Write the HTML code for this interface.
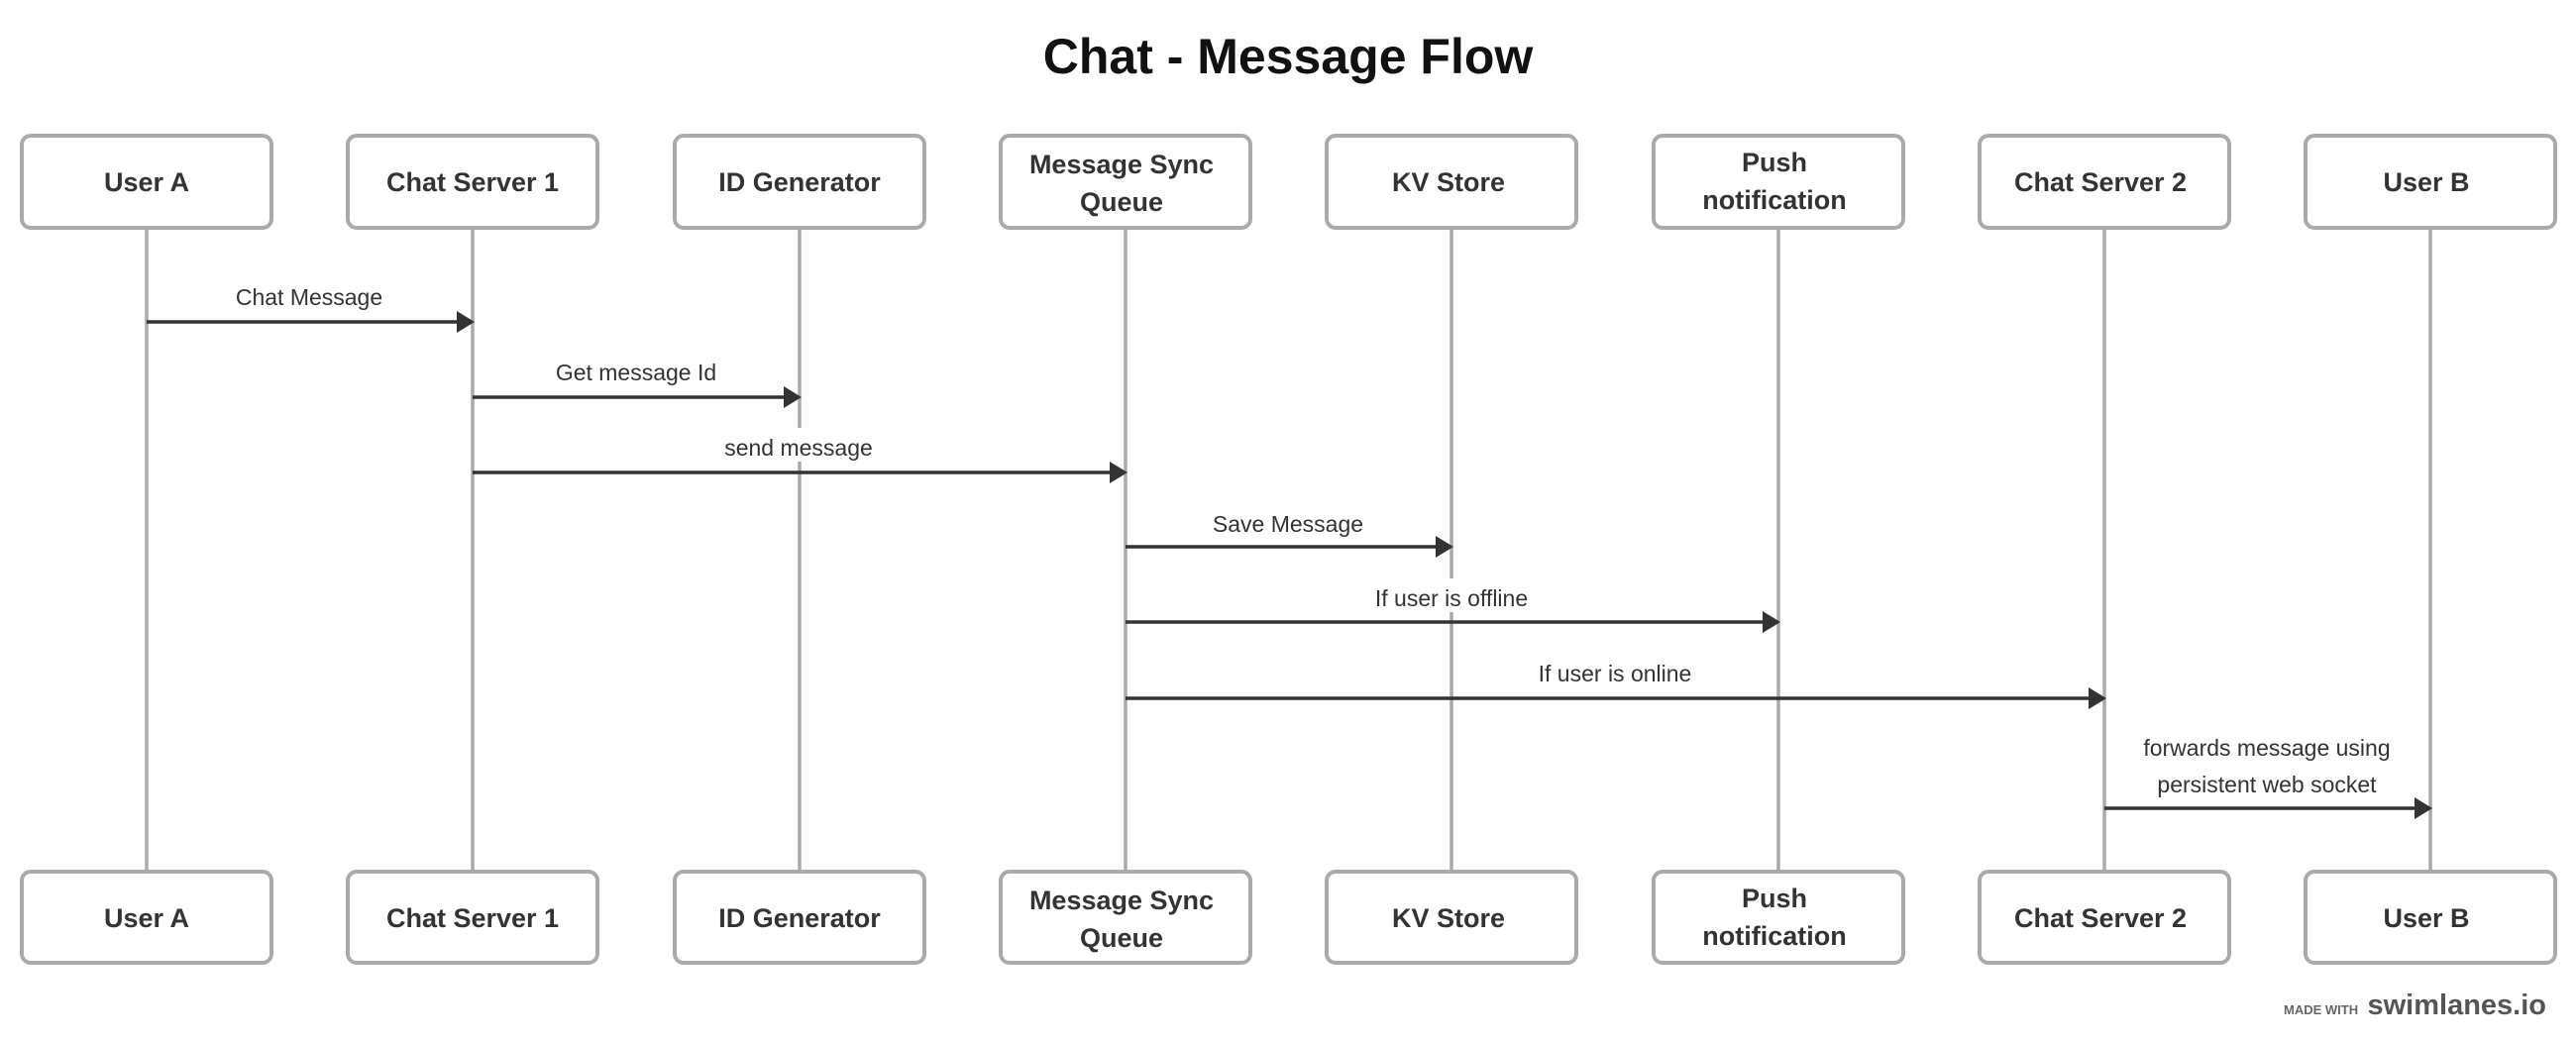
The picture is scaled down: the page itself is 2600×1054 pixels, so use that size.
<!DOCTYPE html>
<html><head><meta charset="utf-8"><style>
html,body{margin:0;padding:0;background:#fff;}
svg{display:block;}
text{font-family:"Liberation Sans",sans-serif;fill:#333;}
.b{font-weight:bold;font-size:27px;}
.l{font-size:23px;}
</style></head><body>
<svg width="2600" height="1054" viewBox="0 0 2600 1054">
<rect width="2600" height="1054" fill="#fff"/>
<text x="1300" y="74" text-anchor="middle" style="font-weight:bold;font-size:50px;fill:#111">Chat - Message Flow</text>
<g stroke="#aaa" stroke-width="3.5">
<line x1="148" y1="230" x2="148" y2="880"/>
<line x1="477" y1="230" x2="477" y2="880"/>
<line x1="807" y1="230" x2="807" y2="880"/>
<line x1="1136" y1="230" x2="1136" y2="880"/>
<line x1="1465" y1="230" x2="1465" y2="880"/>
<line x1="1795" y1="230" x2="1795" y2="880"/>
<line x1="2124" y1="230" x2="2124" y2="880"/>
<line x1="2453" y1="230" x2="2453" y2="880"/>
</g>
<g fill="#fff" stroke="#aaa" stroke-width="4">
<rect x="22" y="137" width="252" height="93" rx="9"/>
<rect x="351" y="137" width="252" height="93" rx="9"/>
<rect x="681" y="137" width="252" height="93" rx="9"/>
<rect x="1010" y="137" width="252" height="93" rx="9"/>
<rect x="1339" y="137" width="252" height="93" rx="9"/>
<rect x="1669" y="137" width="252" height="93" rx="9"/>
<rect x="1998" y="137" width="252" height="93" rx="9"/>
<rect x="2327" y="137" width="252" height="93" rx="9"/>
<rect x="22" y="880" width="252" height="92" rx="9"/>
<rect x="351" y="880" width="252" height="92" rx="9"/>
<rect x="681" y="880" width="252" height="92" rx="9"/>
<rect x="1010" y="880" width="252" height="92" rx="9"/>
<rect x="1339" y="880" width="252" height="92" rx="9"/>
<rect x="1669" y="880" width="252" height="92" rx="9"/>
<rect x="1998" y="880" width="252" height="92" rx="9"/>
<rect x="2327" y="880" width="252" height="92" rx="9"/>
</g>
<g class="b" text-anchor="middle">
<text class="b" x="148" y="193">User A</text>
<text class="b" x="477" y="193">Chat Server 1</text>
<text class="b" x="807" y="193">ID Generator</text>
<text class="b" x="1132" y="175">Message Sync</text>
<text class="b" x="1132" y="213">Queue</text>
<text class="b" x="1462" y="193">KV Store</text>
<text class="b" x="1791" y="173">Push</text>
<text class="b" x="1791" y="211">notification</text>
<text class="b" x="2120" y="193">Chat Server 2</text>
<text class="b" x="2449" y="193">User B</text>
<text class="b" x="148" y="936">User A</text>
<text class="b" x="477" y="936">Chat Server 1</text>
<text class="b" x="807" y="936">ID Generator</text>
<text class="b" x="1132" y="918">Message Sync</text>
<text class="b" x="1132" y="956">Queue</text>
<text class="b" x="1462" y="936">KV Store</text>
<text class="b" x="1791" y="916">Push</text>
<text class="b" x="1791" y="954">notification</text>
<text class="b" x="2120" y="936">Chat Server 2</text>
<text class="b" x="2449" y="936">User B</text>
</g>
<!-- label backgrounds -->
<g fill="#fff">
<rect x="722" y="432" width="170" height="34"/>
<rect x="1360" y="584" width="210" height="34"/>
<rect x="1535" y="660" width="190" height="34"/>
</g>
<g class="l" text-anchor="middle">
<text class="l" x="312" y="308">Chat Message</text>
<text class="l" x="642" y="384">Get message Id</text>
<text class="l" x="806" y="460">send message</text>
<text class="l" x="1300" y="537">Save Message</text>
<text class="l" x="1465" y="612">If user is offline</text>
<text class="l" x="1630" y="688">If user is online</text>
<text class="l" x="2288" y="763">forwards message using</text>
<text class="l" x="2288" y="800">persistent web socket</text>
</g>
<g stroke="#333" stroke-width="3.5">
<line x1="148" y1="325" x2="465" y2="325"/>
<line x1="477" y1="401" x2="795" y2="401"/>
<line x1="477" y1="477" x2="1124" y2="477"/>
<line x1="1136" y1="552" x2="1453" y2="552"/>
<line x1="1136" y1="628" x2="1783" y2="628"/>
<line x1="1136" y1="705" x2="2112" y2="705"/>
<line x1="2124" y1="816" x2="2441" y2="816"/>
</g>
<g fill="#333">
<polygon points="461,314 479,325 461,336"/>
<polygon points="791,390 809,401 791,412"/>
<polygon points="1120,466 1138,477 1120,488"/>
<polygon points="1449,541 1467,552 1449,563"/>
<polygon points="1779,617 1797,628 1779,639"/>
<polygon points="2108,694 2126,705 2108,716"/>
<polygon points="2437,805 2455,816 2437,827"/>
</g>
<text x="2305" y="1024" style="font-size:13px;font-weight:bold;fill:#666">MADE WITH</text>
<text x="2570" y="1024" text-anchor="end" style="font-size:29px;font-weight:bold;fill:#555">swimlanes.io</text>
</svg>
</body></html>
